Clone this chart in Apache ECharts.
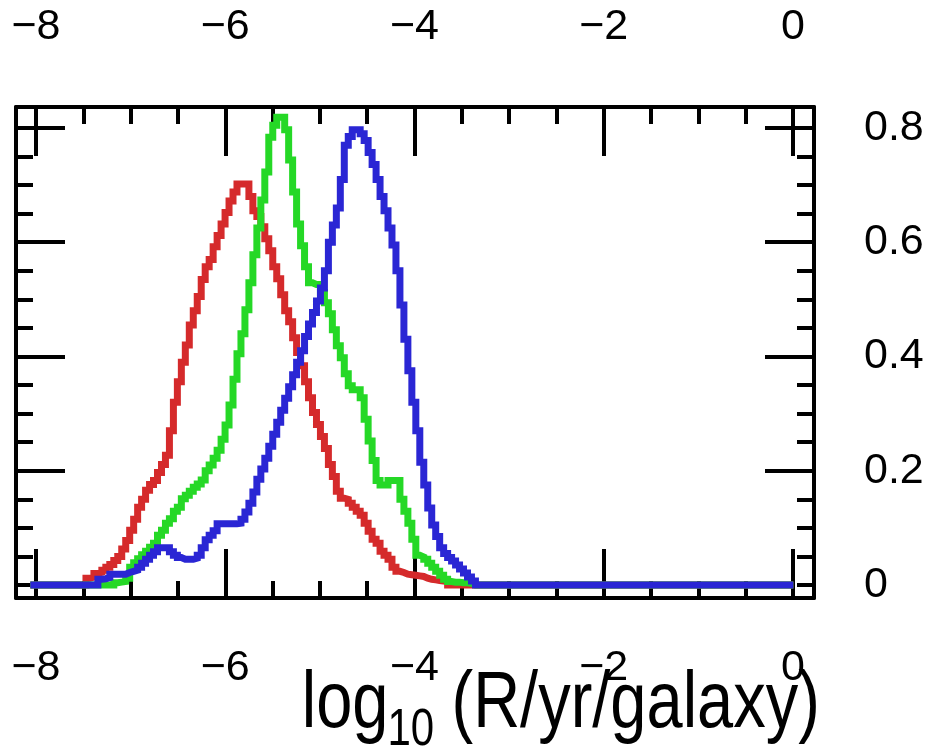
<!DOCTYPE html>
<html>
<head>
<meta charset="utf-8">
<script src="https://cdn.jsdelivr.net/npm/echarts@6/dist/echarts.min.js"></script>
<style>html,body{margin:0;padding:0;background:#fff}#c{width:928px;height:748px}</style>
</head>
<body>
<div id="c"></div>
<script>
// histogram binning (log10 R edges)
const binStart = -8.06;
const binWidth = 0.042;

// tick / label values
const xMajorTicks = [-8, -6, -4, -2, 0];
const xMinorTicks = [-7.5, -7, -6.5, -5.5, -5, -4.5, -3.5, -3, -2.5, -1.5, -1, -0.5];
const yMajorTicks = [0.2, 0.4, 0.6, 0.8];
const yMinorTicks = [0, 0.05, 0.1, 0.15, 0.25, 0.3, 0.35, 0.45, 0.5, 0.55, 0.65, 0.7, 0.75];
const yLabelValues = [0, 0.2, 0.4, 0.6, 0.8];

// bin contents (192 bins each)
const red = [
  0,0,0,0,0,0,0,0,0,0,
  0,0,0,0,0.012,0.014,0.02,0.022,0.026,0.031,
  0.036,0.043,0.05,0.063,0.078,0.096,0.115,0.136,0.15,0.166,
  0.176,0.183,0.197,0.211,0.227,0.27,0.32,0.356,0.39,0.42,
  0.455,0.48,0.505,0.535,0.557,0.57,0.592,0.612,0.632,0.652,
  0.672,0.688,0.702,0.702,0.702,0.68,0.655,0.645,0.627,0.606,
  0.585,0.557,0.536,0.508,0.48,0.461,0.433,0.407,0.384,0.356,
  0.328,0.302,0.281,0.26,0.239,0.211,0.19,0.164,0.152,0.15,
  0.143,0.136,0.129,0.122,0.108,0.094,0.08,0.073,0.059,0.052,
  0.045,0.031,0.024,0.022,0.019,0.018,0.017,0.016,0.015,0.012,
  0.01,0.009,0.008,0.007,0.005,0,0,0,0,0,
  0,0,0,0,0,0,0,0,0,0,
  0,0,0,0,0,0,0,0,0,0,
  0,0,0,0,0,0,0,0,0,0,
  0,0,0,0,0,0,0,0,0,0,
  0,0,0,0,0,0,0,0,0,0,
  0,0,0,0,0,0,0,0,0,0,
  0,0,0,0,0,0,0,0,0,0,
  0,0,0,0,0,0,0,0,0,0,
  0,0
];
const green = [
  0,0,0,0,0,0,0,0,0,0,
  0,0,0,0,0,0,0,0,0,0,
  0,0.004,0.005,0.006,0.012,0.031,0.039,0.046,0.053,0.059,
  0.066,0.073,0.087,0.096,0.108,0.116,0.129,0.136,0.151,0.157,
  0.164,0.171,0.177,0.184,0.2,0.21,0.222,0.236,0.255,0.28,
  0.315,0.36,0.405,0.44,0.482,0.529,0.578,0.625,0.674,0.723,
  0.784,0.805,0.819,0.819,0.797,0.744,0.688,0.632,0.594,0.557,
  0.529,0.526,0.526,0.512,0.494,0.475,0.447,0.419,0.398,0.37,
  0.349,0.342,0.342,0.328,0.29,0.252,0.218,0.183,0.175,0.175,
  0.183,0.183,0.183,0.15,0.129,0.108,0.08,0.052,0.049,0.045,
  0.038,0.031,0.024,0.017,0.01,0.006,0.005,0.005,0.004,0.004,
  0.003,0,0,0,0,0,0,0,0,0,
  0,0,0,0,0,0,0,0,0,0,
  0,0,0,0,0,0,0,0,0,0,
  0,0,0,0,0,0,0,0,0,0,
  0,0,0,0,0,0,0,0,0,0,
  0,0,0,0,0,0,0,0,0,0,
  0,0,0,0,0,0,0,0,0,0,
  0,0,0,0,0,0,0,0,0,0,
  0,0
];
const blue = [
  0,0,0,0,0,0,0,0,0,0,
  0,0,0,0,0,0,0,0.01,0.011,0.013,
  0.019,0.019,0.019,0.019,0.022,0.024,0.026,0.031,0.038,0.045,
  0.052,0.058,0.065,0.065,0.065,0.058,0.052,0.048,0.045,0.045,
  0.045,0.047,0.052,0.065,0.079,0.087,0.095,0.107,0.107,0.107,
  0.107,0.107,0.108,0.115,0.128,0.143,0.163,0.185,0.203,0.222,
  0.243,0.264,0.285,0.306,0.327,0.347,0.368,0.39,0.41,0.435,
  0.457,0.477,0.497,0.52,0.55,0.6,0.63,0.66,0.71,0.77,
  0.785,0.797,0.797,0.79,0.778,0.757,0.736,0.71,0.68,0.655,
  0.625,0.595,0.55,0.49,0.43,0.375,0.32,0.27,0.215,0.175,
  0.135,0.105,0.085,0.065,0.055,0.048,0.042,0.035,0.028,0.021,
  0.014,0.007,0,0,0,0,0,0,0,0,
  0,0,0,0,0,0,0,0,0,0,
  0,0,0,0,0,0,0,0,0,0,
  0,0,0,0,0,0,0,0,0,0,
  0,0,0,0,0,0,0,0,0,0,
  0,0,0,0,0,0,0,0,0,0,
  0,0,0,0,0,0,0,0,0,0,
  0,0,0,0,0,0,0,0,0,0,
  0,0
];

const FONT = '"Liberation Sans", Arial, Helvetica, sans-serif';
const X_MIN = -8.2114, X_MAX = 0.2219;
const Y_MIN = -0.02276, Y_MAX = 0.83676;

function toSteps(vals) {
  const pts = [];
  for (let i = 0; i < vals.length; i++) pts.push([binStart + i * binWidth, vals[i]]);
  pts.push([binStart + vals.length * binWidth, vals[vals.length - 1]]);
  return pts;
}
function fmtX(v) { return v === 0 ? '0' : (v < 0 ? '\u2212' : '') + Math.abs(v); }

const lineBlack = { color: '#000', width: 4 };

function xAx(pos, major) {
  return {
    type: 'value', gridIndex: 0, position: pos, min: X_MIN, max: X_MAX,
    axisLine: { show: major, onZero: false, lineStyle: lineBlack },
    axisTick: { show: true, inside: true, length: major ? 49 : 17,
      customValues: major ? xMajorTicks : xMinorTicks, lineStyle: lineBlack },
    axisLabel: { show: major, customValues: xMajorTicks, margin: pos === 'top' ? 80 : 70,
      fontSize: 43, fontFamily: FONT, color: '#000', verticalAlign: 'middle', formatter: fmtX },
    splitLine: { show: false }, minorTick: { show: false }
  };
}
function yAx(pos, major) {
  const showLabel = major && pos === 'right';
  return {
    type: 'value', gridIndex: 0, position: pos, min: Y_MIN, max: Y_MAX,
    axisLine: { show: major, onZero: false, lineStyle: lineBlack },
    axisTick: { show: true, inside: true, length: major ? 49 : 17,
      customValues: major ? yMajorTicks : yMinorTicks, lineStyle: lineBlack },
    axisLabel: { show: showLabel, customValues: yLabelValues, margin: 50, align: 'left',
      fontSize: 43, fontFamily: FONT, color: '#000', verticalAlign: 'middle',
      padding: [0, 0, 12, 0], formatter: v => String(v) },
    splitLine: { show: false }, minorTick: { show: false }
  };
}

function histSeries(vals, color) {
  return {
    type: 'line', xAxisIndex: 0, yAxisIndex: 0, data: toSteps(vals), step: 'end',
    showSymbol: false, symbol: 'none', silent: true,
    lineStyle: { color: color, width: 7, cap: 'butt', join: 'miter' }
  };
}

const chart = echarts.init(document.getElementById('c'), null, { renderer: 'canvas' });
chart.setOption({
  animation: false,
  backgroundColor: '#fff',
  grid: { left: 16, right: 114, top: 107, bottom: 150, containLabel: false, outerBoundsMode: 'none' },
  xAxis: [xAx('bottom', true), xAx('top', true), xAx('bottom', false), xAx('top', false)],
  yAxis: [yAx('left', true), yAx('right', true), yAx('left', false), yAx('right', false)],
  series: [histSeries(red, '#d52a2b'), histSeries(green, '#25d826'), histSeries(blue, '#2a26d4')],
  graphic: [
    { type: 'text', x: 301.7, y: 705.3, scaleY: 1.23, silent: true,
      style: { text: 'log', font: '65px ' + FONT, fill: '#000', align: 'left', verticalAlign: 'middle' } },
    { type: 'text', x: 387.4, y: 730.6, scaleY: 1.23, silent: true,
      style: { text: '10', font: '42px ' + FONT, fill: '#000', align: 'left', verticalAlign: 'middle' } },
    { type: 'text', x: 451.5, y: 705.3, scaleY: 1.23, silent: true,
      style: { text: '(R/yr/galaxy)', font: '65px ' + FONT, fill: '#000', align: 'left', verticalAlign: 'middle' } }
  ]
});
</script>
</body>
</html>
